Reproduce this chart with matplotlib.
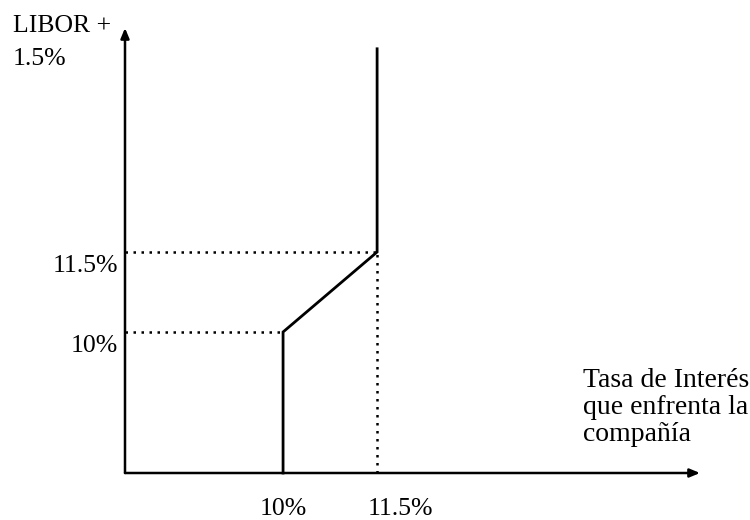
import matplotlib
matplotlib.use("Agg")
import matplotlib.pyplot as plt

plt.rcParams['font.family'] = ['Liberation Serif', 'DejaVu Serif']

# Interest-rate schedule (percent)
curve_x = [10.0, 10.0, 11.5, 11.5]
curve_y = [7.356, 10.0, 11.5, 15.31]
tick_values = [10.0, 11.5]
tick_labels = ["10%", "11.5%"]
y_title = ["LIBOR +", "1.5%"]
x_title = ["Tasa de Interés", "que enfrenta la", "compañía"]

W, H = 750, 520
fig = plt.figure(figsize=(W / 100, H / 100), dpi=100)
ax = fig.add_axes([125 / W, (H - 473) / H, (700 - 125) / W, (473 - 28) / H])
x0, x1 = 7.479, 16.65
y0, y1 = 7.356, 15.7
ax.set_xlim(x0, x1)
ax.set_ylim(y0, y1)
ax.axis('off')

# axes drawn as arrows
arrow = dict(arrowstyle='-|>,head_length=0.6,head_width=0.25', lw=1.8,
             color='black', shrinkA=0, shrinkB=0)
ax.annotate('', xy=(x0, y1), xytext=(x0, y0), arrowprops=arrow,
            annotation_clip=False)
ax.annotate('', xy=(x1, y0), xytext=(x0, y0), arrowprops=arrow,
            annotation_clip=False)

# guide lines
dot = dict(color='black', lw=1.8, linestyle=(0, (1, 2.2)))
ax.plot([x0, tick_values[0]], [tick_values[0], tick_values[0]], **dot)
ax.plot([x0, tick_values[1]], [tick_values[1], tick_values[1]], **dot)
ax.plot([tick_values[1], tick_values[1]], [y0, tick_values[1]], **dot)

# rate curve
ax.plot(curve_x, curve_y, color='black', lw=2.0, solid_joinstyle='miter',
        clip_on=False)

fs = 18.5
# y tick labels
for v, lab in zip(tick_values, tick_labels):
    ax.annotate(lab, xy=(x0, v), xytext=(-5, -14.4), textcoords='offset points',
                ha='right', va='baseline', fontsize=fs)
# x tick labels
ax.annotate(tick_labels[0], xy=(tick_values[0], y0), xytext=(0, -30.5),
            textcoords='offset points', ha='center', va='baseline', fontsize=fs)
ax.annotate(tick_labels[1], xy=(tick_values[1], y0), xytext=(16.5, -30.5),
            textcoords='offset points', ha='center', va='baseline', fontsize=fs)

# axis titles
for line, base in zip(y_title, [32, 65]):
    fig.text(13 / W, 1 - base / H, line, ha='left', va='baseline', fontsize=18.5)
for line, base in zip(x_title, [387, 414, 441]):
    fig.text(583 / W, 1 - base / H, line, ha='left', va='baseline', fontsize=20)

fig.savefig("out.png", dpi=100, facecolor='white')
